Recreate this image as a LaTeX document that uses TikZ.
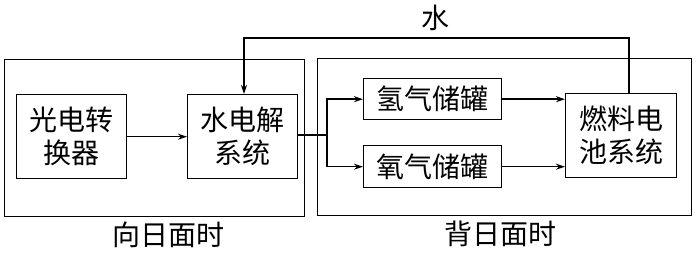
\documentclass[tikz,border=0pt]{standalone}
\usepackage{fontspec}
\newfontfamily\cjk{Noto Sans CJK SC}[Scale=1]
\usetikzlibrary{arrows.meta}
\begin{document}
\begin{tikzpicture}[x=1pt,y=-1pt,
  every node/.style={font=\cjk\fontsize{28}{33}\selectfont, inner sep=0pt},
  blk/.style={draw, line width=1.4pt},
  frame/.style={draw, line width=1.4pt},
  conn/.style={line width=1.4pt},
  arr/.style={conn, -{Stealth[length=9pt,width=6pt]}}]
\useasboundingbox (0,0) rectangle (696,253);
% outer frames
\node[frame, minimum width=300pt, minimum height=157pt, anchor=north west] (left) at (4,59) {};
\node[frame, minimum width=374pt, minimum height=157pt, anchor=north west] (right) at (317,58) {};
% blocks
\node[blk, minimum width=110pt, minimum height=84pt, anchor=north west, align=center] (pv) at (16,94) {光电转\\换器};
\node[blk, minimum width=110pt, minimum height=84pt, anchor=north west, align=center] (el) at (187,94) {水电解\\系统};
\node[blk, minimum width=138pt, minimum height=41pt, anchor=north west] (h2) at (363,78) {氢气储罐};
\node[blk, minimum width=138pt, minimum height=42pt, anchor=north west] (o2) at (363,145) {氧气储罐};
\node[blk, minimum width=111pt, minimum height=84pt, anchor=north west, align=center] (fc) at (565,93) {燃料电\\池系统};
% labels
\node (lw) at (435,18) {水};
\node (ll) at (168,235) {向日面时};
\node (lr) at (500,234) {背日面时};
% connectors
\coordinate (j) at (327,135);
\draw[arr] (pv.east) -- (el.west);
\draw[conn] (el.east |- j) -- (j);
\draw[arr] (j) |- (h2.west);
\draw[arr] (j) |- (o2.west);
\draw[arr] (h2.east) -- (fc.west |- h2.east);
\draw[arr] (o2.east) -- (fc.west |- o2.east);
\coordinate (wt) at (629,38);
\coordinate (wl) at (244,38);
\draw[arr] (fc.north -| wt) -- (wt) -- (wl) -- (el.north -| wl);
\end{tikzpicture}
\end{document}
